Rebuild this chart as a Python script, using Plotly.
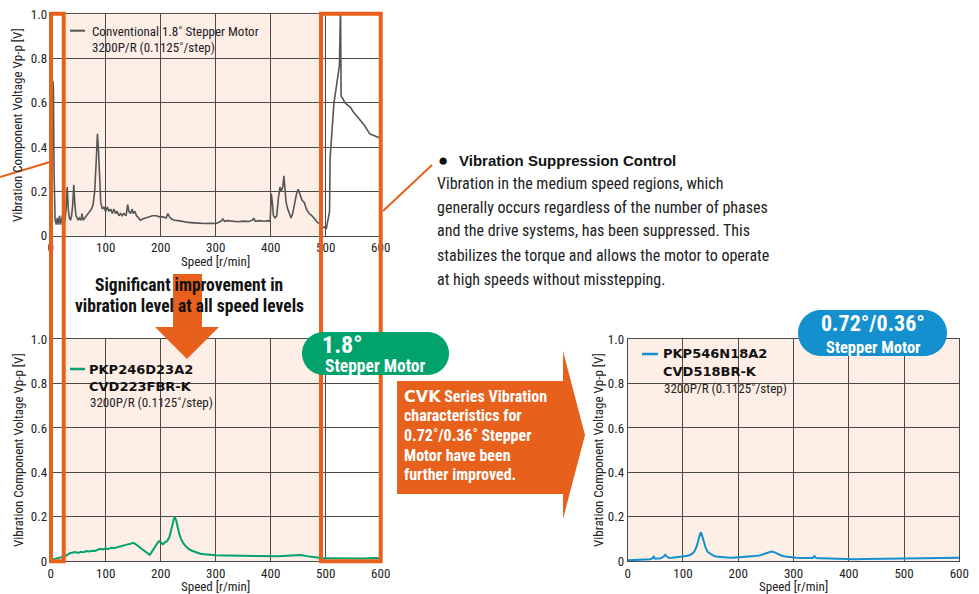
import plotly.graph_objects as go

# ---------------- data ----------------
speed_ticks = [0, 100, 200, 300, 400, 500, 600]
speed_tick_labels = ["0", "100", "200", "300", "400", "500", "600"]
volt_ticks = [0, 0.2, 0.4, 0.6, 0.8, 1.0]
volt_tick_labels = ["0", "0.2", "0.4", "0.6", "0.8", "1.0"]

conv_speed = [0, 2, 3, 4, 5, 6, 7, 8, 10, 12, 14, 16, 18, 20, 22, 24, 26, 28, 30, 32, 34, 36, 38, 40,
              42, 44, 46, 48, 50, 52, 55, 57, 59, 62, 65, 68, 71, 74, 77, 80, 83, 85, 87, 89, 91, 94,
              97, 100, 103, 106, 109, 112, 115, 118, 121, 124, 127, 130, 133, 137, 140, 142, 145, 148,
              150, 153, 156, 160, 163, 167, 172, 178, 185, 192, 198, 204, 210, 213, 216, 220, 225, 232,
              240, 250, 260, 270, 280, 290, 300, 305, 310, 313, 316, 322, 330, 340, 350, 360, 367, 369,
              372, 380, 388, 395, 399, 401, 403, 405, 408, 411, 414, 417, 419, 422, 424, 426, 428, 431,
              434, 437, 440, 443, 447, 450, 453, 457, 461, 465, 470, 475, 480, 485, 489, 492, 495, 498,
              501, 503, 505, 507, 508, 510, 513, 515, 518, 522, 525, 527, 528, 531, 535, 540, 545, 550,
              555, 560, 565, 570, 575, 580, 585, 590, 595, 600]
conv_volt = [0.06, 0.10, 0.55, 0.70, 0.66, 0.30, 0.12, 0.07, 0.05, 0.08, 0.05, 0.09, 0.05, 0.07, 0.10,
             0.06, 0.07, 0.12, 0.22, 0.12, 0.08, 0.07, 0.09, 0.14, 0.23, 0.14, 0.09, 0.08, 0.07, 0.08,
             0.07, 0.10, 0.07, 0.08, 0.09, 0.10, 0.11, 0.12, 0.14, 0.20, 0.35, 0.46, 0.38, 0.22, 0.15,
             0.12, 0.13, 0.11, 0.13, 0.11, 0.12, 0.10, 0.12, 0.10, 0.11, 0.09, 0.10, 0.09, 0.10, 0.09,
             0.14, 0.11, 0.10, 0.12, 0.10, 0.11, 0.09, 0.08, 0.07, 0.075, 0.08, 0.085, 0.09, 0.09,
             0.085, 0.085, 0.08, 0.10, 0.085, 0.075, 0.07, 0.068, 0.064, 0.06, 0.058, 0.055, 0.055,
             0.056, 0.055, 0.06, 0.066, 0.075, 0.065, 0.068, 0.065, 0.063, 0.066, 0.064, 0.07, 0.08,
             0.065, 0.068, 0.065, 0.068, 0.065, 0.19, 0.15, 0.09, 0.08, 0.09, 0.17, 0.22, 0.20, 0.22,
             0.27, 0.20, 0.15, 0.12, 0.10, 0.08, 0.10, 0.14, 0.19, 0.21, 0.19, 0.16, 0.15, 0.12, 0.10,
             0.09, 0.075, 0.06, 0.055, 0.05, 0.035, 0.04, 0.03, 0.06, 0.10, 0.11, 0.35, 0.42, 0.55,
             0.60, 0.65, 0.72, 0.77, 1.05, 0.63, 0.62, 0.60, 0.59, 0.58, 0.56, 0.545, 0.53, 0.52, 0.50,
             0.48, 0.46, 0.455, 0.45, 0.445, 0.44]

pkp246_speed = [0, 5, 10, 15, 20, 25, 30, 35, 40, 45, 50, 55, 60, 65, 70, 75, 80, 85, 90, 95, 100, 105,
                110, 115, 120, 125, 130, 135, 140, 145, 150, 153, 157, 162, 167, 172, 176, 180, 183, 187,
                191, 195, 198, 201, 204, 208, 212, 216, 219, 222, 225, 228, 231, 234, 237, 241, 246, 252,
                258, 265, 272, 280, 290, 300, 320, 340, 360, 380, 400, 415, 430, 445, 455, 465, 475, 485,
                495, 510, 530, 550, 570, 585, 600]
pkp246_volt = [0.005, 0.008, 0.01, 0.012, 0.015, 0.02, 0.028, 0.035, 0.038, 0.04, 0.036, 0.042, 0.04,
               0.045, 0.043, 0.046, 0.045, 0.05, 0.055, 0.052, 0.056, 0.054, 0.06, 0.058, 0.062, 0.065,
               0.068, 0.072, 0.075, 0.078, 0.082, 0.078, 0.072, 0.062, 0.052, 0.042, 0.035, 0.028, 0.038,
               0.055, 0.07, 0.085, 0.09, 0.08, 0.075, 0.085, 0.09, 0.11, 0.14, 0.175, 0.20, 0.185, 0.15,
               0.12, 0.10, 0.08, 0.065, 0.052, 0.045, 0.038, 0.033, 0.03, 0.027, 0.026, 0.025, 0.024,
               0.022, 0.02, 0.019, 0.021, 0.024, 0.026, 0.027, 0.022, 0.018, 0.014, 0.012, 0.012, 0.011,
               0.012, 0.011, 0.013, 0.012]

pkp546_speed = [0, 10, 20, 30, 40, 45, 47, 50, 55, 60, 65, 68, 71, 75, 80, 85, 90, 95, 100, 105, 110, 115,
                120, 124, 127, 130, 132, 134, 136, 138, 141, 145, 150, 155, 160, 170, 180, 190, 200, 210,
                220, 230, 240, 248, 255, 260, 265, 270, 278, 285, 295, 305, 320, 335, 338, 341, 350, 370,
                390, 410, 430, 450, 470, 490, 510, 530, 550, 570, 585, 600]
pkp546_volt = [0.003, 0.004, 0.005, 0.006, 0.008, 0.012, 0.02, 0.01, 0.01, 0.012, 0.02, 0.028, 0.02,
               0.014, 0.015, 0.017, 0.02, 0.019, 0.02, 0.022, 0.025, 0.03, 0.04, 0.06, 0.085, 0.115, 0.13,
               0.12, 0.10, 0.08, 0.06, 0.04, 0.03, 0.024, 0.02, 0.017, 0.016, 0.015, 0.016, 0.017, 0.018,
               0.022, 0.026, 0.032, 0.04, 0.043, 0.04, 0.033, 0.025, 0.02, 0.016, 0.015, 0.014, 0.014,
               0.022, 0.013, 0.012, 0.01, 0.009, 0.008, 0.009, 0.01, 0.01, 0.011, 0.012, 0.012, 0.013,
               0.013, 0.014, 0.015]

# ---------------- styling ----------------
W, H = 979, 594
NARROW = "Liberation Sans Narrow, Arial Narrow, Roboto Condensed, Liberation Sans, sans-serif"
REG = "Liberation Sans, Arial, sans-serif"
WIDE = "DejaVu Sans, Verdana, sans-serif"
ORANGE = "#E8611C"
PINK = "#FDEEE6"
GREEN = "#00A36C"
BLUE = "#1590CF"
GRID = "#4a4a4a"
TXT = "#222222"


def X(p):
    return p / W


def Y(p):
    return 1 - p / H


fig = go.Figure()
fig.add_trace(go.Scatter(x=conv_speed, y=conv_volt, mode="lines", xaxis="x", yaxis="y",
                         line=dict(color="#555555", width=1.6), hoverinfo="skip"))
fig.add_trace(go.Scatter(x=pkp246_speed, y=pkp246_volt, mode="lines", xaxis="x2", yaxis="y2",
                         line=dict(color=GREEN, width=2), hoverinfo="skip"))
fig.add_trace(go.Scatter(x=pkp546_speed, y=pkp546_volt, mode="lines", xaxis="x3", yaxis="y3",
                         line=dict(color=BLUE, width=2), hoverinfo="skip"))

xcommon = dict(range=[0, 600], tickvals=speed_ticks, ticktext=speed_tick_labels, showgrid=True,
               gridcolor=GRID, gridwidth=1, zeroline=False, showline=True, linecolor=GRID,
               linewidth=1, mirror=True, ticks="", tickfont=dict(family=NARROW, size=13, color=TXT),
               fixedrange=True)
ycommon = dict(range=[0, 1], tickvals=volt_ticks, ticktext=volt_tick_labels, showgrid=True,
               gridcolor=GRID, gridwidth=1, zeroline=False, showline=True, linecolor=GRID,
               linewidth=1, mirror=True, ticks="", tickfont=dict(family=NARROW, size=13, color=TXT),
               fixedrange=True)

fig.update_layout(
    width=W, height=H, margin=dict(l=0, r=0, t=0, b=0, autoexpand=False), paper_bgcolor="white",
    plot_bgcolor="rgba(0,0,0,0)", showlegend=False,
    xaxis=dict(domain=[X(50.7), X(380.7)], anchor="y", **xcommon),
    yaxis=dict(domain=[Y(235.7), Y(14.3)], anchor="x", **ycommon),
    xaxis2=dict(domain=[X(50.7), X(380.7)], anchor="y2", **xcommon),
    yaxis2=dict(domain=[Y(561), Y(339.3)], anchor="x2", **ycommon),
    xaxis3=dict(domain=[X(627.7), X(959.3)], anchor="y3", **xcommon),
    yaxis3=dict(domain=[Y(561), Y(339.3)], anchor="x3", **ycommon),
)

shapes = []
# pink backgrounds
shapes.append(dict(type="rect", xref="x", yref="y domain", x0=25, x1=488, y0=0, y1=1,
                   fillcolor=PINK, line_width=0, layer="below"))
shapes.append(dict(type="rect", xref="x2", yref="y2 domain", x0=25, x1=488, y0=0, y1=1,
                   fillcolor=PINK, line_width=0, layer="below"))
shapes.append(dict(type="rect", xref="x3", yref="y3 domain", x0=0, x1=600, y0=0, y1=1,
                   fillcolor=PINK, line_width=0, layer="below"))
# legend background patches hiding grid
for (x0, y0, x1, y1) in [(66, 15, 256, 54), (86, 358, 196, 408), (653, 340, 783, 395)]:
    shapes.append(dict(type="rect", xref="paper", yref="paper", x0=X(x0), x1=X(x1), y0=Y(y1), y1=Y(y0),
                       fillcolor=PINK, line_width=0, layer="between"))
# legend line samples
shapes.append(dict(type="line", xref="paper", yref="paper", x0=X(70), x1=X(85), y0=Y(30.7), y1=Y(30.7),
                   line=dict(color="#555555", width=2), layer="above"))
shapes.append(dict(type="line", xref="paper", yref="paper", x0=X(70), x1=X(85), y0=Y(369), y1=Y(369),
                   line=dict(color=GREEN, width=2.5), layer="above"))
shapes.append(dict(type="line", xref="paper", yref="paper", x0=X(642), x1=X(658), y0=Y(354), y1=Y(354),
                   line=dict(color=BLUE, width=2.5), layer="above"))

# orange highlight boxes
for (x0, x1) in [(51, 63.7), (321, 380.7)]:
    shapes.append(dict(type="rect", xref="paper", yref="paper", x0=X(x0), x1=X(x1), y0=Y(561.3),
                       y1=Y(13.7), line=dict(color=ORANGE, width=4), fillcolor="rgba(0,0,0,0)",
                       layer="above"))
# diagonal leader lines
shapes.append(dict(type="line", xref="paper", yref="paper", x0=X(0), y0=Y(177), x1=X(50), y1=Y(162),
                   line=dict(color=ORANGE, width=2), layer="above"))
shapes.append(dict(type="line", xref="paper", yref="paper", x0=X(383), y0=Y(211), x1=X(432), y1=Y(165),
                   line=dict(color=ORANGE, width=2), layer="above"))


def poly(points):
    s = "M " + " L ".join(f"{X(a):.5f},{Y(b):.5f}" for a, b in points) + " Z"
    return s


# down arrow
shapes.append(dict(type="path", xref="paper", yref="paper",
                   path=poly([(173, 274), (202, 274), (202, 327), (219, 327), (187, 359), (155, 327),
                              (173, 327)]),
                   fillcolor=ORANGE, line_width=0, layer="above"))
# right arrow
shapes.append(dict(type="path", xref="paper", yref="paper",
                   path=poly([(397, 381), (563, 381), (563, 351), (585, 435), (563, 519), (563, 494),
                              (397, 494)]),
                   fillcolor=ORANGE, line_width=0, layer="above"))


def pill(x0, y0, x1, y1):
    r = (y1 - y0) / 2
    k = 0.5523 * r
    cy = (y0 + y1) / 2

    def P(a, b):
        return f"{X(a):.5f},{Y(b):.5f}"

    return (f"M {P(x0 + r, y0)} L {P(x1 - r, y0)} "
            f"C {P(x1 - r + k, y0)} {P(x1, cy - k)} {P(x1, cy)} "
            f"C {P(x1, cy + k)} {P(x1 - r + k, y1)} {P(x1 - r, y1)} "
            f"L {P(x0 + r, y1)} "
            f"C {P(x0 + r - k, y1)} {P(x0, cy + k)} {P(x0, cy)} "
            f"C {P(x0, cy - k)} {P(x0 + r - k, y0)} {P(x0 + r, y0)} Z")


shapes.append(dict(type="path", xref="paper", yref="paper", path=pill(302, 332, 449, 375),
                   fillcolor=GREEN, line_width=0, layer="above"))
shapes.append(dict(type="path", xref="paper", yref="paper", path=pill(798, 310, 947, 356),
                   fillcolor=BLUE, line_width=0, layer="above"))

fig.update_layout(shapes=shapes)

ann = []


def txt(x, y, s, size, color=TXT, family=NARROW, xanchor="left", angle=0):
    ann.append(dict(x=X(x), y=Y(y), xref="paper", yref="paper", text=s, showarrow=False,
                    xanchor=xanchor, yanchor="middle", textangle=angle, borderpad=0,
                    font=dict(family=family, size=size, color=color)))


# axis titles
for (cx, cy) in [(18, 125), (18, 450), (598, 450)]:
    txt(cx, cy, "Vibration Component Voltage Vp-p [V]", 13, xanchor="center", angle=-90)
for (cx, cy) in [(215.7, 261), (215.7, 586), (793, 586)]:
    txt(cx, cy, "Speed [r/min]", 13, xanchor="center")

# legends
txt(91, 31, "Conventional 1.8˚ Stepper Motor", 13)
txt(91, 47, "3200P/R (0.1125˚/step)", 13)
txt(88, 369, "<b>PKP246D23A2</b>", 13, color="#111", family=WIDE)
txt(88, 386, "<b>CVD223FBR-K</b>", 13, color="#111", family=WIDE)
txt(89, 402, "3200P/R (0.1125˚/step)", 13)
txt(662, 354, "<b>PKP546N18A2</b>", 13, color="#111", family=WIDE)
txt(662, 371, "<b>CVD518BR-K</b>", 13, color="#111", family=WIDE)
txt(663, 388, "3200P/R (0.1125˚/step)", 13)

# improvement caption
txt(188.5, 285, "<b>Significant improvement in</b>", 17.5, color="#111", xanchor="center")
txt(189, 306, "<b>vibration level at all speed levels</b>", 17.5, color="#111", xanchor="center")

# side description
txt(442.5, 160, "●", 17, color="#111", family=REG, xanchor="center")
txt(458, 160, "<b>Vibration Suppression Control</b>", 15, color="#111", family=REG)
desc_lines = ["Vibration in the medium speed regions, which",
              "generally occurs regardless of the number of phases",
              "and the drive systems, has been suppressed. This",
              "stabilizes the torque and allows the motor to operate",
              "at high speeds without misstepping."]
for i, line in enumerate(desc_lines):
    txt(436, 183 + 24 * i, line, 16, color="#222")

# badges
txt(321, 345, "<b>1.8°</b>", 24, color="white")
txt(375.5, 366, "<b>Stepper Motor</b>", 17.5, color="white", xanchor="center")
txt(873, 323, "<b>0.72°/0.36°</b>", 22, color="white", xanchor="center")
txt(873, 347.5, "<b>Stepper Motor</b>", 16.5, color="white", xanchor="center")

# arrow text
arrow_lines = [f"<b><span style='font-family:{WIDE}'>CVK</span> Series Vibration</b>",
               "<b>characteristics for</b>",
               "<b>0.72˚/0.36˚ Stepper</b>",
               "<b>Motor have been</b>",
               "<b>further improved.</b>"]
for i, line in enumerate(arrow_lines):
    txt(402.5, 396 + 19.7 * i, line, 16, color="white")

fig.update_layout(annotations=ann)
fig.write_html("out.html", config={"displayModeBar": False},
               post_script="document.body.style.margin='0px';")
